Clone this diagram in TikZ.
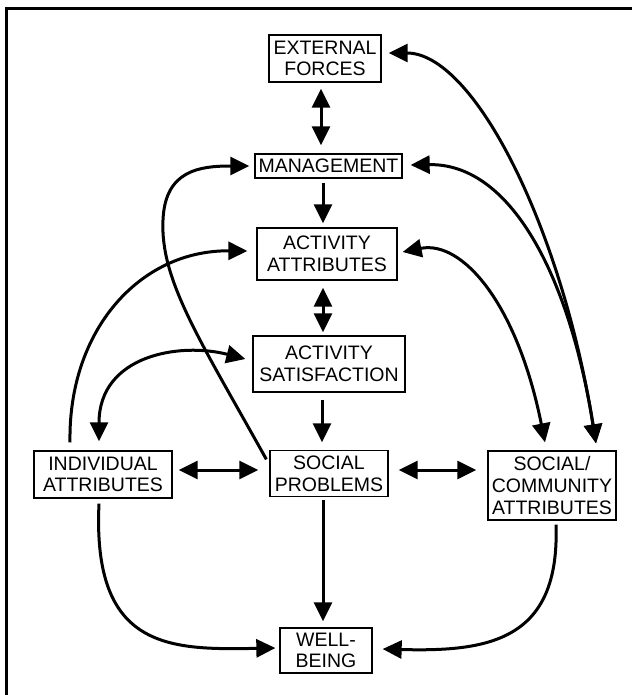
\documentclass[tikz,border=0pt]{standalone}
\usepackage{fontspec}
\setmainfont{Liberation Sans}
\usetikzlibrary{arrows.meta,calc}
\begin{document}
\begin{tikzpicture}[x=1pt,y=-1pt,
  box/.style={draw,line width=1.3pt,inner sep=0pt,align=center,font=\fontsize{19.5}{21.7}\selectfont},
  conn/.style={line width=3pt},
  onehead/.style={conn,-{Triangle[length=19pt,width=18pt]}},
  twohead/.style={conn,{Triangle[length=19pt,width=18pt]}-{Triangle[length=19pt,width=18pt]}},
  frameline/.style={line width=2.5pt}
]
\useasboundingbox (0,0) rectangle (632,695);
% frame
\coordinate (fbl) at (6.5,695);
\coordinate (ftl) at (6.5,8.5);
\coordinate (ftr) at (632,8.5);
\draw[frameline] (fbl) -- (ftl) -- (ftr);

% nodes
\node[box,minimum width=112pt,minimum height=47pt] (ext) at (325,58.5) {EXTERNAL\\FORCES};
\node[box,minimum width=147pt,minimum height=24pt] (mgmt) at (328.5,166) {MANAGEMENT};
\node[box,minimum width=140pt,minimum height=52pt] (aa) at (327,254) {ACTIVITY\\ATTRIBUTES};
\node[box,minimum width=152pt,minimum height=56pt] (as) at (329,364) {ACTIVITY\\SATISFACTION};
\node[box,minimum width=138pt,minimum height=47pt] (ind) at (103,474.5) {INDIVIDUAL\\ATTRIBUTES};
\node[box,minimum width=118pt,minimum height=46pt] (sp) at (329,473.5) {SOCIAL\\PROBLEMS};
\node[box,minimum width=128pt,minimum height=69pt] (sc) at (552,485.5) {SOCIAL/\\COMMUNITY\\ATTRIBUTES};
\node[box,minimum width=92pt,minimum height=45pt] (wb) at (326,650.5) {WELL-\\BEING};

% straight connectors
\draw[twohead] ($(ext.south)+(-4,6)$) -- ($(mgmt.north)+(-7.5,-8)$);
\draw[onehead] ($(mgmt.south)+(-5.5,4)$) -- ($(aa.north)+(-4,-4)$);
\draw[twohead] ($(aa.south)+(-4,7)$) -- ($(as.north)+(-6,-3)$);
\draw[onehead] ($(as.south)+(-7,7)$) -- ($(sp.north)+(-7,-7.5)$);
\draw[onehead] ($(sp.south)+(-6,2.5)$) -- ($(wb.north)+(-3,-6)$);
\draw[twohead] ($(ind.east)+(6,-4.5)$) -- ($(sp.west)+(-11,-3.5)$);
\draw[twohead] ($(sp.east)+(10,-3.5)$) -- ($(sc.west)+(-11,-15.5)$);

% curved connectors to well-being
\draw[onehead] ($(ind.south)+(-4,5)$) .. controls (92,650) and (170,650) .. ($(wb.west)+(-4,-2.5)$);
\draw[onehead] ($(sc.south)+(4,4)$) .. controls (560,640) and (490,652) .. ($(wb.east)+(10,-1.5)$);

% left curves
\draw[onehead] ($(ind.north)+(-33,-8)$) .. controls (68,330) and (140,250) .. ($(aa.west)+(-9,-3)$);
\draw[twohead] ($(ind.north)+(-4,-9)$) .. controls (99,355) and (180,342) .. ($(as.west)+(-7,-5)$);
\draw[onehead] ($(sp.north west)+(-3,9.5)$) .. controls (200,340) and (160,280) .. (163,220)
   .. controls (165,170) and (200,166) .. ($(mgmt.west)+(-5,0)$);

% right curves
\draw[twohead] ($(ext.east)+(7,-5.5)$) .. controls (473,53) and (561,224) .. ($(sc.north)+(44,-7)$);
\draw[twohead] ($(mgmt.east)+(8,-1)$) .. controls (510,163) and (569,274) .. ($(sc.north)+(44,-7)$);
\draw[twohead] ($(aa.east)+(5,-2)$) .. controls (462,240) and (517,303) .. ($(sc.north)+(-7,-8)$);
\end{tikzpicture}
\end{document}
